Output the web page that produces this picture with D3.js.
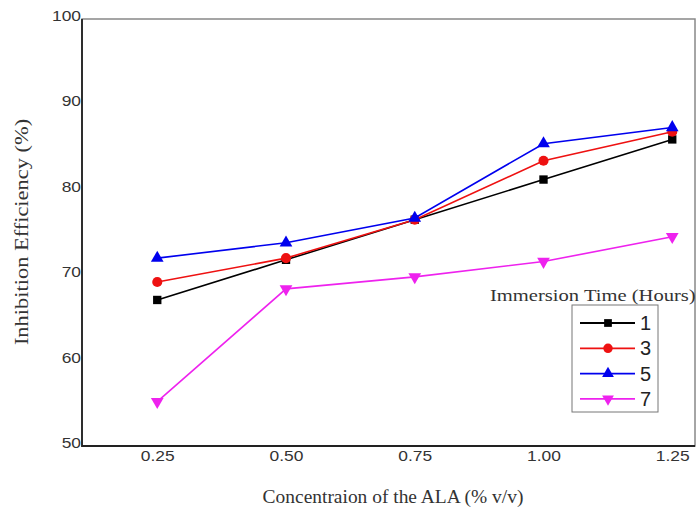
<!DOCTYPE html>
<html>
<head>
<meta charset="utf-8">
<script src="https://cdn.jsdelivr.net/npm/d3@7/dist/d3.min.js"></script>
<style>
  html, body { margin: 0; padding: 0; background: #fff; }
  svg { display: block; }
</style>
</head>
<body>
<svg id="chart" width="697" height="512"></svg>
<script>
// Concentration of ALA (% v/v)
const concentrations = [0.25, 0.50, 0.75, 1.00, 1.25];
// Inhibition efficiency (%) per immersion time
const series1h = [67.1, 71.8, 76.5, 81.2, 85.9];
const series3h = [69.2, 72.0, 76.5, 83.4, 86.8];
const series5h = [72.0, 73.8, 76.7, 85.4, 87.3];
const series7h = [55.2, 68.4, 69.8, 71.6, 74.5];
const seriesNames = ["1", "3", "5", "7"];
const xTicks = [0.25, 0.50, 0.75, 1.00, 1.25];
const yTicks = [50, 60, 70, 80, 90, 100];

const seriesList = [
  { name: seriesNames[0], values: series1h, color: "#000000", symbol: d3.symbolSquare, rot: 0 },
  { name: seriesNames[1], values: series3h, color: "#ee1111", symbol: d3.symbolCircle, rot: 0 },
  { name: seriesNames[2], values: series5h, color: "#0000ee", symbol: d3.symbolTriangle, rot: 0 },
  { name: seriesNames[3], values: series7h, color: "#ee22ee", symbol: d3.symbolTriangle, rot: 180 }
];

const svg = d3.select("#chart");
const plotLeft = 82, plotRight = 695, plotTop = 19, plotBottom = 446;

const x = d3.scaleLinear().domain([0.1, 1.3]).range([80, 698]);
const y = d3.scaleLinear().domain([50, 100]).range([plotBottom, plotTop]);

// widen glyphs horizontally by a factor
function stretch(sel, factor) {
  sel.each(function () {
    const w = this.getComputedTextLength();
    d3.select(this).attr("textLength", w * factor).attr("lengthAdjust", "spacingAndGlyphs");
  });
}

// axes
const xAxis = svg.append("g")
  .attr("transform", `translate(0,${plotBottom})`)
  .call(d3.axisBottom(x).tickValues(xTicks).tickFormat(d3.format(".2f")).tickSize(0).tickPadding(5));
xAxis.select(".domain").remove();
const yAxis = svg.append("g")
  .attr("transform", `translate(${plotLeft},0)`)
  .call(d3.axisLeft(y).tickValues(yTicks).tickSize(0).tickPadding(1));
yAxis.select(".domain").remove();

[xAxis, yAxis].forEach(g => {
  g.selectAll("text")
    .attr("font-family", "Liberation Sans, Arial, sans-serif")
    .attr("font-size", 14.5).attr("fill", "#333");
  stretch(g.selectAll("text"), 1.2);
});
yAxis.selectAll("text").attr("dy", "0.1em");

// frame: grey top/right, dark left/bottom axis lines
svg.append("rect")
  .attr("x", plotLeft).attr("y", plotTop)
  .attr("width", plotRight - plotLeft).attr("height", plotBottom - plotTop)
  .attr("fill", "none").attr("stroke", "#888").attr("stroke-width", 1.5);
svg.append("path")
  .attr("d", `M${plotLeft},${plotTop}V${plotBottom}H${plotRight}`)
  .attr("fill", "none").attr("stroke", "#222").attr("stroke-width", 1.8);

// axis titles
const xTitle = svg.append("text")
  .attr("x", 393).attr("y", 503)
  .attr("text-anchor", "middle")
  .attr("font-family", "Liberation Serif, Times New Roman, serif")
  .attr("font-size", 18).attr("fill", "#333")
  .text("Concentraion of the ALA (% v/v)");
stretch(xTitle, 1.08);
const yTitle = svg.append("text")
  .attr("transform", "translate(28,232) rotate(-90)")
  .attr("text-anchor", "middle")
  .attr("font-family", "Liberation Serif, Times New Roman, serif")
  .attr("font-size", 19).attr("fill", "#333")
  .text("Inhibition Efficiency (%)");
stretch(yTitle, 1.18);

// series lines and markers
const line = d3.line().x((d, i) => x(concentrations[i])).y(d => y(d));
seriesList.forEach(s => {
  svg.append("path")
    .datum(s.values)
    .attr("d", line)
    .attr("fill", "none")
    .attr("stroke", s.color)
    .attr("stroke-width", 1.6);
  svg.selectAll(null)
    .data(s.values)
    .enter().append("path")
    .attr("d", d3.symbol().type(s.symbol).size(s.symbol === d3.symbolCircle ? 80 : 70))
    .attr("transform", (d, i) => `translate(${x(concentrations[i])},${y(d)}) rotate(${s.rot})`)
    .attr("fill", s.color);
});

// legend
const legTitle = svg.append("text")
  .attr("x", 490).attr("y", 301)
  .attr("font-family", "Liberation Serif, Times New Roman, serif")
  .attr("font-size", 17).attr("fill", "#333")
  .text("Immersion Time (Hours)");
stretch(legTitle, 1.21);
svg.append("rect")
  .attr("x", 572).attr("y", 305).attr("width", 86).attr("height", 107)
  .attr("fill", "#fff").attr("stroke", "#777").attr("stroke-width", 1);
seriesList.forEach((s, i) => {
  const ly = 323 + i * 25.3;
  svg.append("line")
    .attr("x1", 580).attr("x2", 635).attr("y1", ly).attr("y2", ly)
    .attr("stroke", s.color).attr("stroke-width", 1.8);
  svg.append("path")
    .attr("d", d3.symbol().type(s.symbol).size(s.symbol === d3.symbolCircle ? 70 : 60))
    .attr("transform", `translate(608,${ly}) rotate(${s.rot})`)
    .attr("fill", s.color);
  svg.append("text")
    .attr("x", 640).attr("y", ly + 7)
    .attr("font-family", "Liberation Sans, Arial, sans-serif")
    .attr("font-size", 20).attr("fill", "#222")
    .text(s.name);
});
</script>
</body>
</html>
